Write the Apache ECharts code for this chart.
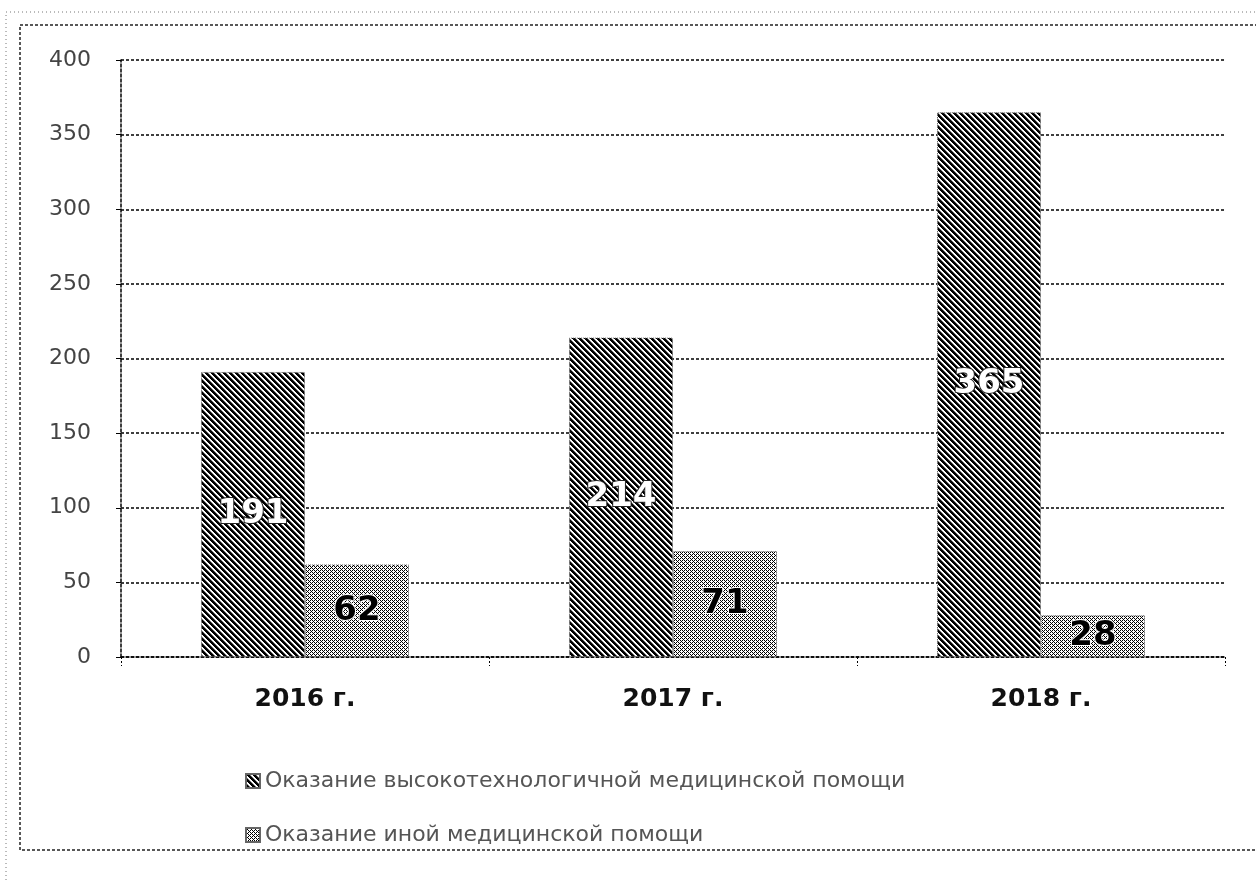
<!DOCTYPE html>
<html>
<head>
<meta charset="utf-8">
<script src="https://cdn.jsdelivr.net/npm/echarts@6/dist/echarts.min.js"></script>
<style>
html,body{margin:0;padding:0;background:#fff;}
#main{width:1256px;height:880px;}
</style>
</head>
<body>
<div id="main"></div>
<script>
var years = ['2016 г.', '2017 г.', '2018 г.'];
var hiTech = [191, 214, 365];
var other = [62, 71, 28];
var seriesNames = ['Оказание высокотехнологичной медицинской помощи', 'Оказание иной медицинской помощи'];
var yTicks = [0, 50, 100, 150, 200, 250, 300, 350, 400];

// штриховка для столбцов
function makePattern(kind) {
	var c = document.createElement('canvas');
	var n = kind === 1 ? 6 : 4;
	c.width = n; c.height = n;
	var ctx = c.getContext('2d');
	ctx.fillStyle = '#fff';
	ctx.fillRect(0, 0, n, n);
	for (var x = 0; x < n; x++) {
		for (var y = 0; y < n; y++) {
			var d = ((x - y) % n + n) % n;
			if (kind === 1) {
				if (d < 3) { ctx.fillStyle = '#000'; ctx.fillRect(x, y, 1, 1); }
				else if (d === 3) { ctx.fillStyle = '#777'; ctx.fillRect(x, y, 1, 1); }
			} else {
				ctx.fillStyle = '#000';
				if (d === 0 || (d === 2 && (x % 2 === 0))) ctx.fillRect(x, y, 1, 1);
			}
		}
	}
	return {image: c, repeat: 'repeat'};
}

var myChart = echarts.init(document.getElementById('main'));
var option = {
	backgroundColor: '#fff',
	animation: false,
	textStyle: {fontFamily: 'DejaVu Sans'},
	graphic: [
		{type: 'rect', shape: {x: 6, y: 12, width: 1260, height: 880}, style: {fill: 'none', stroke: '#777', lineWidth: 1, lineDash: [1, 3]}},
		{type: 'rect', shape: {x: 20, y: 25, width: 1250, height: 825}, style: {fill: 'none', stroke: '#222', lineWidth: 1.5, lineDash: [3, 2]}}
	],
	grid: {left: 121, right: 31, top: 60, bottom: 223},
	legend: {
		orient: 'vertical',
		left: 240,
		top: 765,
		itemGap: 32,
		itemWidth: 14,
		itemHeight: 14,
		icon: 'rect',
		textStyle: {color: '#555', fontSize: 22, fontFamily: 'DejaVu Sans'},
		data: seriesNames
	},
	xAxis: {
		type: 'category',
		data: years,
		axisLine: {lineStyle: {color: '#000', type: [3, 2], width: 1.5}},
		axisTick: {show: true, length: 9, lineStyle: {color: '#000', type: [2, 2]}},
		axisLabel: {color: '#111', fontSize: 25, fontWeight: 'bold', margin: 30, fontFamily: 'DejaVu Sans'}
	},
	yAxis: {
		type: 'value',
		min: yTicks[0],
		max: yTicks[yTicks.length - 1],
		interval: 50,
		axisLine: {show: true, lineStyle: {color: '#000', type: [3, 2], width: 1.5}},
		axisTick: {show: true, length: 5, lineStyle: {color: '#000'}},
		axisLabel: {color: '#444', fontSize: 22, margin: 30, fontFamily: 'DejaVu Sans'},
		splitLine: {lineStyle: {color: '#000', type: [3, 2], width: 1.5}}
	},
	series: [
		{
			name: seriesNames[0],
			type: 'bar',
			data: hiTech,
			barWidth: 104,
			barGap: '0%',
			itemStyle: {color: makePattern(1), borderColor: '#666', borderWidth: 1, borderType: 'dotted'},
			label: {
				show: true, position: 'inside', color: '#fff', fontSize: 34, fontWeight: 'bold',
				textBorderColor: '#222', textBorderWidth: 2, fontFamily: 'DejaVu Sans'
			}
		},
		{
			name: seriesNames[1],
			type: 'bar',
			data: other,
			barWidth: 104,
			barGap: '0%',
			itemStyle: {color: makePattern(2), borderColor: '#666', borderWidth: 1, borderType: 'dotted'},
			label: {
				show: true, position: 'inside', color: '#000', fontSize: 34, fontWeight: 'bold',
				textBorderColor: '#fff', textBorderWidth: 2, fontFamily: 'DejaVu Sans'
			}
		}
	]
};
myChart.setOption(option);
</script>
</body>
</html>
